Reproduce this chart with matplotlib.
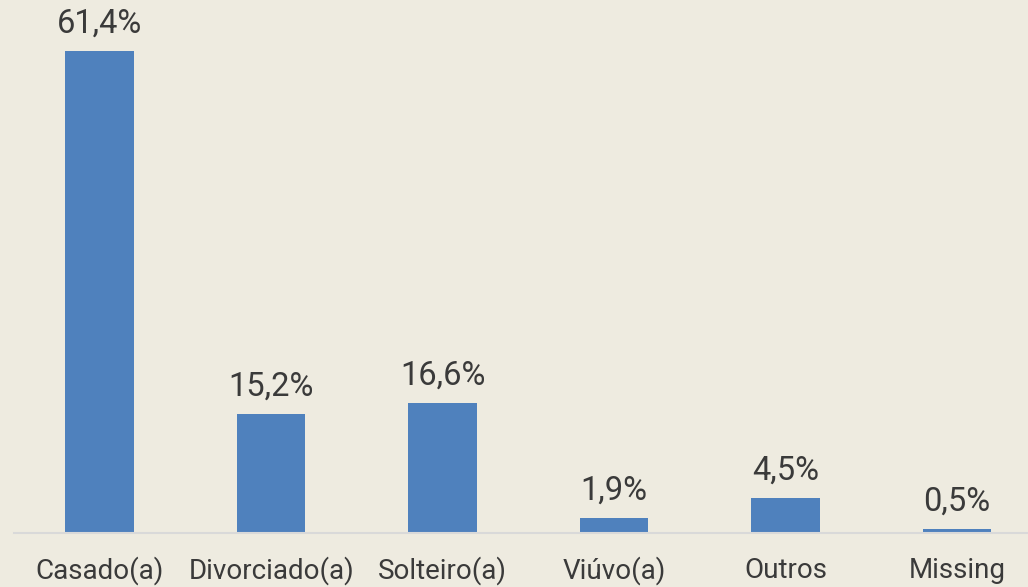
import matplotlib
matplotlib.use('Agg')
import matplotlib.pyplot as plt

plt.rcParams['font.family'] = ['Roboto', 'DejaVu Sans']

categorias = ['Casado(a)', 'Divorciado(a)', 'Solteiro(a)', 'Viúvo(a)', 'Outros', 'Missing']
valores = [61.4, 15.2, 16.6, 1.9, 4.5, 0.5]
rotulos = ['61,4%', '15,2%', '16,6%', '1,9%', '4,5%', '0,5%']

fundo = '#EEEBE0'
fig = plt.figure(figsize=(10.28, 5.87), dpi=100, facecolor=fundo)
ax = fig.add_axes([14 / 1028, 54 / 587, 1028.7 / 1028, 510 / 587])
ax.set_facecolor(fundo)

x = range(len(categorias))
barras = ax.bar(x, valores, width=0.4, color='#4F81BD', zorder=2)

for b, r in zip(barras, rotulos):
    ax.text(b.get_x() + b.get_width() / 2, b.get_height() + 1.45, r,
            ha='center', va='bottom', fontsize=23.5, color='#3A3A3A', clip_on=False)

ax.set_xlim(-0.5, 5.5)
ax.set_ylim(0, 65)
ax.set_xticks(list(x))
ax.set_xticklabels(categorias, fontsize=20, color='#3A3A3A')
ax.tick_params(axis='x', length=0, pad=17)
ax.set_yticks([])
for s in ['top', 'right', 'left']:
    ax.spines[s].set_visible(False)
ax.spines['bottom'].set_color('#D9D9D9')
ax.spines['bottom'].set_linewidth(1.5)

fig.savefig('out.png', dpi=100, facecolor=fundo)
